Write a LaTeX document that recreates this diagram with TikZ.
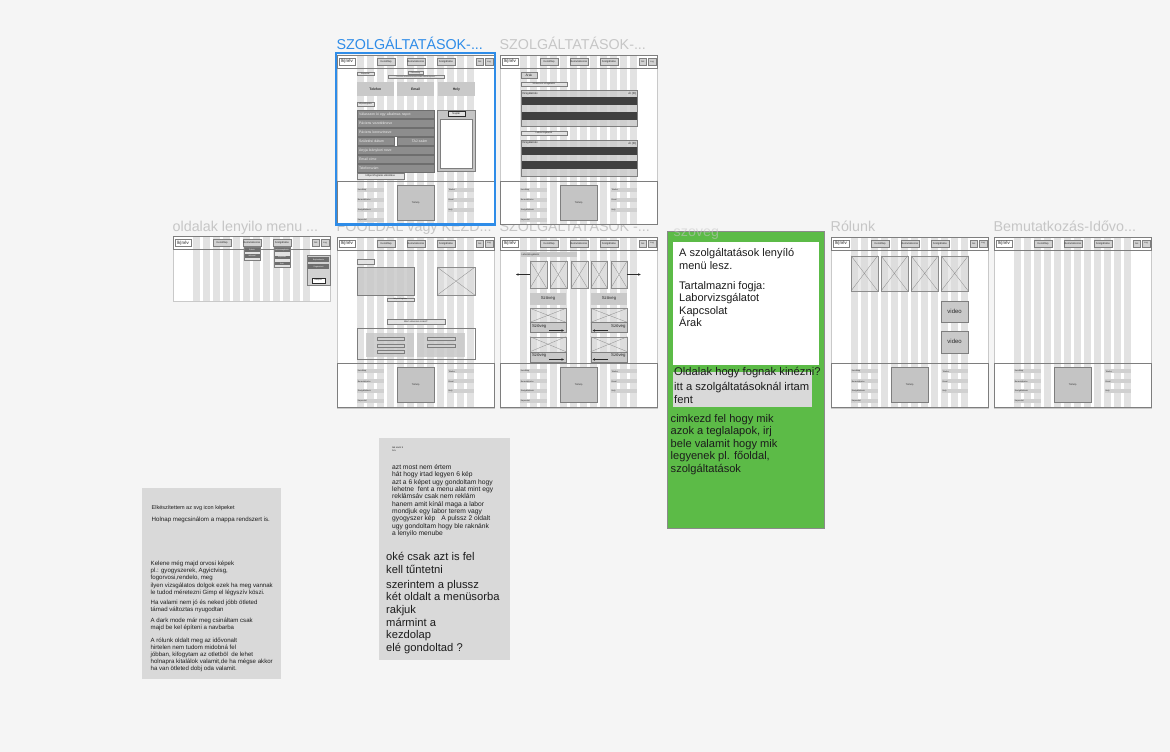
\documentclass[tikz,border=0pt]{standalone}
\usepackage{fontspec}
\setmainfont{Liberation Sans}
\usetikzlibrary{arrows.meta}

\definecolor{canvas}{HTML}{F5F5F5}
\definecolor{stripe}{HTML}{E2E2E2}
\definecolor{frameedge}{HTML}{C9C9C9}
\definecolor{boxedge}{HTML}{7E7E7E}
\definecolor{boxfill}{HTML}{D2D2D2}
\definecolor{barfill}{HTML}{D0D0D0}
\definecolor{mapfill}{HTML}{C4C4C4}
\definecolor{btnfill}{HTML}{E2E2E2}
\definecolor{fieldfill}{HTML}{8D8D8D}
\definecolor{fieldedge}{HTML}{6E6E6E}
\definecolor{fieldtext}{HTML}{EDEDED}
\definecolor{blockfill}{HTML}{C9C9C9}
\definecolor{rowdark}{HTML}{3F3F3F}
\definecolor{rowlight}{HTML}{CBCBCB}
\definecolor{xcol}{HTML}{8C8C8C}
\definecolor{xfill}{HTML}{DADADA}
\definecolor{wftext}{HTML}{2A2A2A}
\definecolor{titlegray}{HTML}{C6C6C6}
\definecolor{selblue}{HTML}{2E8CE8}
\definecolor{notegray}{HTML}{D9D9D9}
\definecolor{notegreen}{HTML}{5CBB47}
\definecolor{greenedge}{HTML}{8A8A8A}
\definecolor{inktext}{HTML}{1C1C1C}
\definecolor{dropdark}{HTML}{6F6F6F}

\newcommand{\wfsize}[1]{\fontsize{#1}{#1}\selectfont}

\tikzset{
  wf/.style={inner sep=0pt, outer sep=0pt, text=wftext},
  logobox/.style={wf, draw=boxedge, line width=0.3pt, fill=white, minimum width=16.6pt, minimum height=6.7pt, font=\wfsize{4.6}},
  navbtn/.style={wf, draw=boxedge, fill=boxfill, line width=0.3pt, minimum width=17.7pt, minimum height=6.7pt, font=\wfsize{2.6}},
  minibtn/.style={wf, draw=boxedge, fill=boxfill, line width=0.3pt, minimum width=7.5pt, minimum height=6.7pt, font=\wfsize{2.2}},
  ftlabel/.style={wf, fill=barfill, minimum width=26.7pt, minimum height=4pt, text width=25pt, align=left, font=\wfsize{2}},
  mapbox/.style={wf, draw=boxedge, fill=mapfill, line width=0.3pt, minimum width=37.3pt, minimum height=35pt, font=\wfsize{2.4}},
  lightbtn/.style={wf, draw=boxedge, fill=btnfill, line width=0.3pt, font=\wfsize{2}},
  field/.style={wf, draw=fieldedge, fill=fieldfill, line width=0.3pt, minimum height=7.7pt, text=fieldtext, font=\wfsize{3.5}},
  graybox/.style={wf, fill=blockfill, font=\bfseries\wfsize{3.4}},
  dropitem/.style={wf, fill=dropdark, text=white, minimum width=15pt, font=\wfsize{1.8}},
  xph/.style={wf, draw=xcol, fill=xfill, fill opacity=0.55, line width=0.3pt},
  xline/.style={draw=xcol, line width=0.3pt},
  wfarrow/.style={draw=wftext, line width=0.35pt, -{Stealth[length=2.6pt,width=2.4pt]}},
  frametitle/.style={anchor=base west, inner sep=0pt, text=titlegray, font=\wfsize{14.3}},
  notetext/.style={anchor=base west, inner sep=0pt, text=inktext},
}

% one wireframe page: name, left, top, height, footer flag
\newcommand{\wireframe}[5]{%
\begin{scope}[shift={(#2,#3)}]
  \fill[white] (0,0) rectangle (157,#4);
  \foreach \i in {0,...,11}{\fill[stripe] ({20+10*\i},0) rectangle ({26.7+10*\i},#4);}
  \draw[frameedge, line width=0.4pt] (0,0) rectangle (157,#4);
  \draw[boxedge, line width=0.35pt] (0.3,0.3) rectangle (156.7,13.3);
  \node[logobox] (#1-logo) at (10,6.65) {lk|név};
  \node[navbtn] (#1-nav1) at (49.15,6.65) {Kezdőlap};
  \node[navbtn] (#1-nav2) at (78.85,6.65) {Bemutatkozás};
  \node[navbtn] (#1-nav3) at (108.85,6.65) {Szolgáltatás};
  \node[minibtn] (#1-drk) at (142.85,6.65) {Drk};
  \node[minibtn] (#1-log) at (152,6.65) {Log};
  \ifnum#5=1
    \draw[boxedge, line width=0.35pt] (0.3,126) rectangle (156.7,#4-0.3);
    \node[ftlabel] (#1-f1) at (33.35,134.6) {Kezdőlap};
    \node[ftlabel] (#1-f2) at (33.35,144.6) {Bemutatkozás};
    \node[ftlabel] (#1-f3) at (33.35,154.6) {Szolgáltatások};
    \node[ftlabel] (#1-f4) at (33.35,164.6) {Kapcsolat};
    \node[mapbox] (#1-map) at (78.65,148.1) {Térkép};
    \node[ftlabel] (#1-f5) at (124,134.6) {Telefon};
    \node[ftlabel] (#1-f6) at (124,144.6) {Email};
    \node[ftlabel] (#1-f7) at (124,154.6) {Hely};
  \fi
\end{scope}}

% image placeholder: name, centre x, centre y, width, height
\newcommand{\imgph}[5]{%
  \node[xph, minimum width=#4pt, minimum height=#5pt] (#1) at (#2,#3) {};
  \draw[xline] (#1.north west) -- (#1.south east) (#1.south west) -- (#1.north east);}

% price list block: name, top
\newcommand{\pricetable}[2]{%
  \fill[rowlight, fill opacity=0.8] (521,#2) rectangle (637.3,#2+36);
  \fill[rowdark] (521,#2+7) rectangle (637.3,#2+15);
  \fill[rowdark] (521,#2+21.7) rectangle (637.3,#2+29.4);
  \draw[boxedge, line width=0.3pt] (521,#2) rectangle (637.3,#2+36);
  \node[wf, anchor=west, font=\wfsize{2.8}] (#1-h) at (522,#2+3.5) {Vizsgálatnév};
  \node[wf, anchor=east, font=\wfsize{2.8}] (#1-p) at (636.3,#2+3.5) {Ár (Ft)};}

\begin{document}
\begin{tikzpicture}[x=1pt,y=-1pt]
\useasboundingbox (0,0) rectangle (1170,752);
\fill[canvas] (0,0) rectangle (1170,752);

% ---------- second row titles ----------
\node[frametitle] (t-menu) at (172.5,231.5) {oldalak lenyilo menu ...};
\node[frametitle] (t-home) at (336.5,231.5) {FŐOLDAL vagy KEZD...};
\node[frametitle] (t-lab) at (499.5,231.5) {SZOLGÁLTATÁSOK -...};
\node[frametitle] (t-about) at (830.5,231.5) {Rólunk};
\node[frametitle] (t-intro) at (993.5,231.5) {Bemutatkozás-Idővo...};

% ---------- dropdown menu page ----------
\wireframe{m}{173}{236.3}{65}{0}
\draw[boxedge, fill=btnfill, line width=0.3pt] (243.7,247) rectangle (260.3,260);
\node[dropitem, minimum height=4pt] (m-d1) at (252,249.7) {Rólunk};
\node[dropitem, minimum height=4.3pt] (m-d2) at (252,256.15) {Idővonal};
\draw[boxedge, fill=btnfill, line width=0.3pt] (273.7,247) rectangle (290.3,267.3);
\node[dropitem, minimum height=3.4pt] (m-s1) at (282,250) {Laborvizsgálatok};
\node[dropitem, minimum height=3.6pt] (m-s2) at (282,257.5) {Kapcsolat};
\node[dropitem, minimum height=3.6pt] (m-s3) at (282,263.5) {Árak};
\draw[boxedge, fill=boxfill, line width=0.3pt] (307,255) rectangle (330.3,285);
\node[dropitem, minimum width=21.3pt, minimum height=4.7pt] (m-r1) at (318.65,259.65) {Bejelentkezés};
\node[dropitem, minimum width=21.3pt, minimum height=4.7pt] (m-r2) at (318.65,266.65) {Regisztráció};
\node[wf, draw=wftext, fill=white, line width=0.3pt, minimum width=12.7pt, minimum height=5pt, font=\wfsize{2}] (m-r3) at (318.35,280.2) {Belépés};

% ---------- home page ----------
\wireframe{h}{337}{236.7}{171}{1}
\node[wf, draw=boxedge, fill=btnfill, line width=0.3pt, minimum width=16.7pt, minimum height=4.7pt] (h-tag) at (365.35,261.65) {};
\node[wf, draw=boxedge, fill=blockfill, fill opacity=0.85, line width=0.3pt, minimum width=57pt, minimum height=27.7pt] (h-hero) at (385.5,281.15) {};
\imgph{h-img}{456}{281.15}{37.4}{27.7}
\node[lightbtn, minimum width=26.7pt, minimum height=3.3pt, font=\wfsize{1.9}] (h-book) at (400.35,299.35) {Időpont foglalás};
\node[lightbtn, minimum width=57.7pt, minimum height=4.4pt, font=\wfsize{2.2}] (h-why) at (415.85,321.5) {Miért válasszon minket?};
\draw[boxedge, line width=0.3pt] (357,328.3) rectangle (474.7,359.3);
\fill[blockfill, fill opacity=0.85] (366.3,332.7) rectangle (414,356.7);
\fill[blockfill, fill opacity=0.85] (417.3,332.7) rectangle (464.7,356.7);
\foreach \yy in {337.3,343.7,350.3}{\draw[boxedge, fill=barfill, line width=0.3pt] (377.3,\yy) rectangle (403.7,\yy+3.1);}
\foreach \yy in {337.3,343.7}{\draw[boxedge, fill=barfill, line width=0.3pt] (427.3,\yy) rectangle (454.7,\yy+3.1);}

% ---------- laboratory page ----------
\wireframe{l}{500}{236.7}{171}{1}
\node[wf, fill=blockfill, minimum width=56pt, minimum height=5pt, text width=54pt, align=left, font=\wfsize{2.3}] (l-head) at (548.7,254.8) {Laborvizsgálatok};
\imgph{l-x1}{538.35}{274.5}{16.7}{27.6}
\imgph{l-x2}{558.35}{274.5}{16.7}{27.6}
\imgph{l-x3}{579.35}{274.5}{16.7}{27.6}
\imgph{l-x4}{599}{274.5}{16.6}{27.6}
\imgph{l-x5}{619}{274.5}{16.6}{27.6}
\coordinate (l-prev) at (516,274.5);
\coordinate (l-next) at (640.7,274.5);
\draw[wfarrow] (l-x1.west) -- (l-prev);
\draw[wfarrow] (l-x5.east) -- (l-next);
\node[graybox, font=\wfsize{4.3}, minimum width=36pt, minimum height=12.3pt] (l-t1) at (548,298.85) {Szöveg};
\node[graybox, font=\wfsize{4.3}, minimum width=36.6pt, minimum height=12.3pt] (l-t2) at (609,298.85) {Szöveg};
\imgph{l-y1}{548}{315.3}{36}{14}
\imgph{l-y2}{609}{315.3}{36.6}{14}
\node[wf, draw=boxedge, fill=blockfill, line width=0.3pt, minimum width=36pt, minimum height=10pt] (l-b1) at (548,327.3) {};
\node[wf, draw=boxedge, fill=blockfill, line width=0.3pt, minimum width=36.6pt, minimum height=10pt] (l-b2) at (609,327.3) {};
\imgph{l-y3}{548}{344.2}{36}{15}
\imgph{l-y4}{609}{344.2}{36.6}{15}
\node[wf, draw=boxedge, fill=blockfill, line width=0.3pt, minimum width=36pt, minimum height=10pt] (l-b3) at (548,356.7) {};
\node[wf, draw=boxedge, fill=blockfill, line width=0.3pt, minimum width=36.6pt, minimum height=10pt] (l-b4) at (609,356.7) {};
\node[wf, anchor=west, font=\wfsize{4.3}] (l-s1) at (532,326.3) {Szöveg};
\node[wf, anchor=east, font=\wfsize{4.3}] (l-s2) at (625.5,326.3) {Szöveg};
\node[wf, anchor=west, font=\wfsize{4.3}] (l-s3) at (532,355.7) {Szöveg};
\node[wf, anchor=east, font=\wfsize{4.3}] (l-s4) at (625.5,355.7) {Szöveg};
\coordinate (l-a1s) at (549,330.5); \coordinate (l-a1e) at (564,330.5);
\coordinate (l-a2s) at (608,330.5); \coordinate (l-a2e) at (592.5,330.5);
\coordinate (l-a3s) at (549,359.5); \coordinate (l-a3e) at (564,359.5);
\coordinate (l-a4s) at (608,359.5); \coordinate (l-a4e) at (592.5,359.5);
\draw[wfarrow] (l-a1s) -- (l-a1e);
\draw[wfarrow] (l-a2s) -- (l-a2e);
\draw[wfarrow] (l-a3s) -- (l-a3e);
\draw[wfarrow] (l-a4s) -- (l-a4e);

% ---------- about page ----------
\wireframe{r}{831}{236.7}{171}{1}
\imgph{r-x1}{864.35}{273.35}{26.7}{35.3}
\imgph{r-x2}{894.35}{273.35}{26.7}{35.3}
\imgph{r-x3}{924.65}{273.35}{27.3}{35.3}
\imgph{r-x4}{954.65}{273.35}{27.3}{35.3}
\node[wf, draw=boxedge, fill=blockfill, line width=0.3pt, minimum width=27.3pt, minimum height=21.3pt, font=\wfsize{6}] (r-v1) at (954.65,311.65) {video};
\node[wf, draw=boxedge, fill=blockfill, line width=0.3pt, minimum width=27.3pt, minimum height=21.7pt, font=\wfsize{6}] (r-v2) at (954.65,341.85) {video};

% ---------- intro / timeline page ----------
\wireframe{i}{994}{236.7}{171}{1}

% ---------- first row ----------
\node[frametitle] (t-prices) at (499.5,49) {SZOLGÁLTATÁSOK-...};
\node[frametitle, text=selblue] (t-contact) at (336.5,49) {SZOLGÁLTATÁSOK-...};

% contact / booking page
\wireframe{a}{337}{55}{169}{1}
\node[lightbtn, minimum width=16.7pt, minimum height=3.4pt, font=\wfsize{1.9}] (a-kap) at (365.3,73.7) {Kapcsolat};
\node[lightbtn, minimum width=15pt, minimum height=3pt, font=\wfsize{1.7}] (a-el) at (415.5,72.8) {Elérhetőség};
\node[lightbtn, minimum width=56pt, minimum height=3pt, font=\wfsize{1.5}] (a-sub) at (416,76.8) {Keressen minket bizalommal az alábbi elérhetőségeinken};
\node[graybox, minimum width=36.7pt, minimum height=14pt] (a-tel) at (375.35,89.3) {Telefon};
\node[graybox, minimum width=36.7pt, minimum height=14pt] (a-mail) at (415.65,89.3) {Email};
\node[graybox, minimum width=36.7pt, minimum height=14pt] (a-hely) at (456.35,89.3) {Hely};
\node[lightbtn, minimum width=16.7pt, minimum height=3.4pt, font=\wfsize{1.9}] (a-ido) at (365.3,104) {Időpontfoglalás};
\node[field, minimum width=77pt, text width=73pt, align=left] (a-f1) at (395.5,114.15) {Válasszon ki egy alkalmas napot};
\node[field, minimum width=77pt, text width=73pt, align=left] (a-f2) at (395.5,123.15) {Páciens vezetékneve};
\node[field, minimum width=77pt, text width=73pt, align=left] (a-f3) at (395.5,132.15) {Páciens keresztneve};
\node[field, minimum width=37pt, text width=33pt, align=left] (a-f4) at (375.5,141.15) {Születési dátum};
\node[field, minimum width=37pt] (a-f5) at (415.5,141.15) {\hspace{8pt}TAJ-szám};
\node[field, minimum width=77pt, text width=73pt, align=left] (a-f6) at (395.5,150.15) {Anyja leánykori neve};
\node[field, minimum width=77pt, text width=73pt, align=left] (a-f7) at (395.5,159.15) {Email címe};
\node[field, minimum width=77pt, text width=73pt, align=left] (a-f8) at (395.5,168.15) {Telefonszám};
\node[lightbtn, minimum width=46.7pt, minimum height=5.7pt, font=\wfsize{2.6}] (a-send) at (380.35,175.85) {Időpontfoglalás elküldése};
\draw[boxedge, fill=mapfill, line width=0.4pt] (437,110.3) rectangle (474.7,171.3);
\draw[boxedge, fill=white, line width=0.3pt] (439.7,119) rectangle (472.3,168);
\node[wf, draw=wftext, fill=btnfill, line width=0.3pt, minimum width=16.7pt, minimum height=4.4pt, font=\wfsize{2.6}] (a-cal) at (456.35,113.5) {Naptár};

% price list page
\wireframe{p}{500}{55}{169}{1}
\node[wf, draw=boxedge, fill=barfill, line width=0.3pt, minimum width=15.7pt, minimum height=6pt, font=\wfsize{3.2}] (p-arak) at (528.85,75) {Árak};
\node[lightbtn, minimum width=45.7pt, minimum height=4pt, font=\wfsize{2.2}] (p-szak) at (543.85,84.3) {Szakorvosi vizsgálatok};
\pricetable{p-t1}{90.3}
\node[lightbtn, minimum width=45.7pt, minimum height=4pt, font=\wfsize{2.2}] (p-lab) at (543.85,133.3) {Laborvizsgálatok};
\pricetable{p-t2}{139.7}

% selection outline
\draw[selblue, line width=2.2pt] (335.8,53.2) rectangle (495.2,224.4);

% ---------- green note ----------
\draw[fill=notegreen, draw=greenedge, line width=0.5pt] (667,231) rectangle (824,528.3);
\node[frametitle, text opacity=0.55] (t-text) at (673.5,236.5) {szoveg};
\fill[white] (673,241.7) rectangle (818.7,365);
\fill[notegray] (673,371.7) rectangle (812.3,406.7);
\foreach \yy/\t [count=\k] in {256/{A szolgáltatások lenyíló}, 269/{menü lesz.}, 289.5/{Tartalmazni fogja:}, 301.8/{Laborvizsgálatot}, 314.3/{Kapcsolat}, 326.8/{Árak}}
  \node[notetext, font=\wfsize{11}] (g-w\k) at (679,\yy) {\t};
\foreach \yy/\t [count=\k] in {375.7/{Oldalak hogy fognak kinézni?}, 390.5/{itt a szolgáltatásoknál irtam}, 403/{fent}}
  \node[notetext, font=\wfsize{11.2}] (g-q\k) at (674,\yy) {\t};
\foreach \yy/\t [count=\k] in {422.3/{cimkezd fel hogy mik}, 434.7/{azok a teglalapok, irj}, 447/{bele valamit hogy mik}, 459.3/{legyenek pl. főoldal,}, 472/{szolgáltatások}}
  \node[notetext, font=\wfsize{11.1}] (g-c\k) at (670.5,\yy) {\t};

% ---------- sticky note, left ----------
\fill[notegray] (141.7,488.3) rectangle (280.7,678.6);
\node[notetext, font=\wfsize{5.5}] (s-a) at (151.5,509.5) {Elkészítettem az svg icon képeket};
\node[notetext, font=\wfsize{6.15}] (s-b) at (151.5,521.3) {Holnap megcsinálom a mappa rendszert is.};
\foreach \yy/\t [count=\k] in {565.2/{Kelene még majd orvosi képek}, 572.5/{pl.: gyogyszerek, Agyictvisg,}, 579.8/{fogorvosi,rendelo, meg}, 587/{ilyen vizsgálatos dolgok ezek ha meg vannak}, 594.2/{le tudod méretezni Gimp el légyszív köszi.}, 604.2/{Ha valami nem jó és neked jóbb ötleted}, 611.3/{támad változtas nyugodtan}, 622/{A dark mode már meg csináltam csak}, 629/{majd be kel építeni a navbarba}, 642/{A rólunk oldalt meg az idővonalt}, 649.3/{hirtelen nem tudom midobná fel}, 656.4/{jóbban, kifogytam az otletböl\ \ de lehet}, 663.7/{holnapra kitalálok valamit,de ha mégse akkor}, 670.8/{ha van ötleted dobj oda valamit.}}
  \node[notetext, font=\wfsize{6.1}] (s-l\k) at (150.5,\yy) {\t};

% ---------- sticky note, middle ----------
\fill[notegray] (379.3,438.3) rectangle (510.3,660.3);
\node[notetext, font=\wfsize{2.4}] (m-tag1) at (392,448.3) {tek ervin 5};
\node[notetext, font=\wfsize{2.4}] (m-tag2) at (392,451.2) {óra};
\foreach \yy/\t [count=\k] in {469.6/{azt most nem értem}, 476.9/{hát hogy irtad legyen 6 kép}, 484.2/{azt a 6 képet ugy gondoltam hogy}, 491.3/{lehetne\ \ fent a menu alat mint egy}, 498.9/{reklámsáv csak nem reklám}, 506.2/{hanem amit kínál maga a labor}, 513.6/{mondjuk egy labor terem vagy}, 520.9/{gyogyszer kép\hspace{6pt}A pulssz 2 oldalt}, 528.2/{ugy gondoltam hogy ble raknánk}, 535.6/{a lenyilo menube}}
  \node[notetext, font=\wfsize{6.7}] (n-l\k) at (392,\yy) {\t};
\foreach \yy/\t [count=\k] in {560.3/{oké csak azt is fel}, 573.5/{kell tűntetni}, 588/{szerintem a plussz}, 600.3/{két oldalt a menüsorba}, 613.5/{rakjuk}, 626/{mármint a}, 638.6/{kezdolap}, 651.2/{elé gondoltad ?}}
  \node[notetext, font=\wfsize{11.2}] (n-b\k) at (386,\yy) {\t};
\end{tikzpicture}
\end{document}
